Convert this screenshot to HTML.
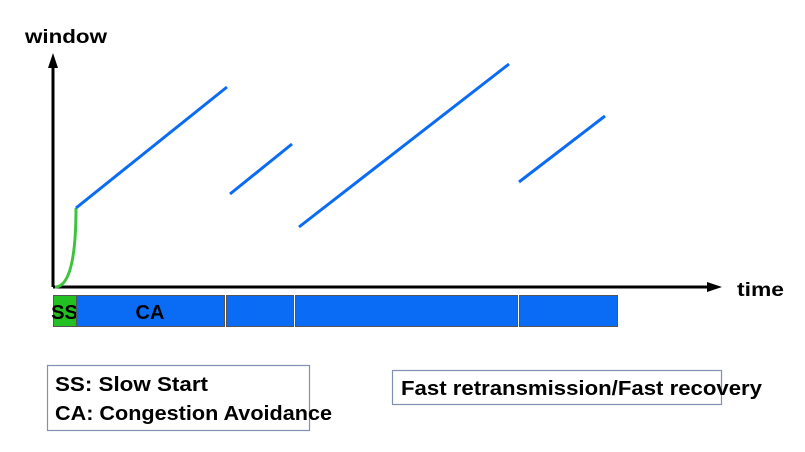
<!DOCTYPE html>
<html><head><meta charset="utf-8"><style>
html,body{margin:0;padding:0;background:#fff;}
svg{display:block;font-family:"Liberation Sans",sans-serif;font-weight:bold;}
</style></head><body>
<svg id="chart" width="805" height="452" viewBox="0 0 805 452">
<g id="marks"></g>
<text x="25" y="43" font-size="19" textLength="82" lengthAdjust="spacingAndGlyphs">window</text>
<text x="737" y="296" font-size="19" textLength="47" lengthAdjust="spacingAndGlyphs">time</text>
<rect x="47.5" y="365.5" width="262" height="65" fill="none" stroke="#8090b0" stroke-width="1.2"/>
<text x="55" y="391" font-size="20" textLength="153" lengthAdjust="spacingAndGlyphs">SS: Slow Start</text>
<text x="55" y="420" font-size="20" textLength="277" lengthAdjust="spacingAndGlyphs">CA: Congestion Avoidance</text>
<rect x="392.5" y="370.5" width="329" height="34" fill="none" stroke="#8090b0" stroke-width="1.2"/>
<text x="401" y="395" font-size="20" textLength="361" lengthAdjust="spacingAndGlyphs">Fast retransmission/Fast recovery</text>
</svg>
<script>
// data (time units, window units)
const segStartT = [23, 177, 246, 466];
const segStartW = [79, 93, 60, 105];
const segEndT = [174, 239, 456, 552];
const segEndW = [200, 143, 223, 171];
const ssEndT = 23;
const ssEndW = 79;
const phaseStart = [0, 23, 173, 242, 466];
const phaseEnd = [23, 171, 240, 464, 564];
const phaseLabels = ["SS", "CA", "", "", ""];

const X0 = 53, Y0 = 287;
const xS = t => X0 + t;
const yS = w => Y0 - w;
const NS = "http://www.w3.org/2000/svg";
const g = document.getElementById('marks');
function mk(tag, attrs){const e=document.createElementNS(NS,tag);for(const k in attrs)e.setAttribute(k,attrs[k]);g.appendChild(e);return e;}

for (let i=0;i<phaseStart.length;i++){
  const r = mk('rect',{x:xS(phaseStart[i])+0.5,y:295.5,width:phaseEnd[i]-phaseStart[i],height:31,fill:i===0?'#22c022':'#0a6cf5',stroke:'#555','stroke-width':1});
  
  
  if (phaseLabels[i]){
    const t = mk('text',{x:(xS(phaseStart[i])+xS(phaseEnd[i]))/2,y:319,'font-size':20,'text-anchor':'middle',fill:'#000'});
    t.textContent = phaseLabels[i];
    
    
  }
}
const ax = mk('path',{d:`M${X0} ${Y0} L${X0} 64 M${X0} ${Y0} L711 ${Y0}`,stroke:'#000','stroke-width':3,fill:'none'});


const ah = mk('path',{d:`M${X0} 53 L${X0-5} 68 L${X0+5} 68 Z M722 ${Y0} L707 ${Y0-5} L707 ${Y0+5} Z`,fill:'#000'});


const ss = mk('path',{d:`M${xS(2)} ${yS(0)} Q${xS(ssEndT)} ${yS(0)} ${xS(ssEndT)} ${yS(ssEndW)}`,stroke:'#3cc43c','stroke-width':3,fill:'none'});


for (let i=0;i<segStartT.length;i++){
  const l = mk('line',{x1:xS(segStartT[i]),y1:yS(segStartW[i]),x2:xS(segEndT[i]),y2:yS(segEndW[i]),stroke:'#0a6cf5','stroke-width':3});
  
  
}
</script>
</body></html>
